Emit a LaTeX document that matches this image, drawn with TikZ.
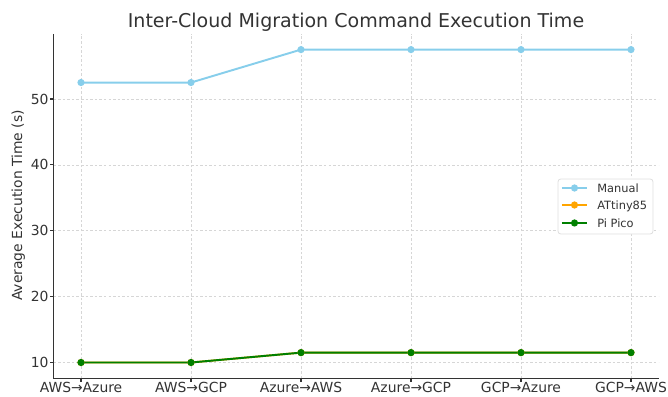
\documentclass[tikz,border=0pt]{standalone}
\usepackage{fontspec}
\setmainfont{DejaVu Sans}
\usetikzlibrary{calc}
\definecolor{skyblue}{HTML}{87CEEB}
\definecolor{mplorange}{HTML}{FFA500}
\definecolor{mplgreen}{HTML}{008000}
\definecolor{txtgray}{HTML}{333333}
\tikzset{
	every node/.style={font=\fontsize{10}{12}\selectfont, text=txtgray},
	gridline/.style={gray!32, line width=0.5pt, dash pattern=on 1.8pt off 1.5pt},
	spine/.style={txtgray, line width=0.8pt},
	series/.style={line width=1.4pt, line join=round},
	legtext/.style={anchor=base west, inner sep=0pt, yshift=-3pt, font=\fontsize{8.2}{10}\selectfont},
}

\begin{document}
\begin{tikzpicture}[x=79.2pt, y=4.743pt]
	\useasboundingbox (-0.7364,4.915) rectangle (5.3364,65.03);
	
	\coordinate (sw) at (-0.25,7.625);
	\coordinate (nw) at (-0.25,59.875);
	\coordinate (se) at (5.25,7.625);
	
	% grille
	\foreach \i in {0,...,5}
		\draw[gridline] (\i,7.625) -- (\i,59.875);
	\foreach \v in {10,20,...,50}
		\draw[gridline] (-0.25,\v) -- (5.25,\v);
	
	% axes
	\draw[spine] (nw) -- (sw) -- (se);
	\foreach \v in {10,20,...,50} {
		\draw[spine] (-0.25,\v) -- ++(-2.5pt,0);
		\node[anchor=east, inner sep=0pt, xshift=-3.4pt] (yl\v) at (-0.25,\v) {\v};
	}
	\foreach \i/\lab in {0/AWS→Azure, 1/AWS→GCP, 2/Azure→AWS, 3/Azure→GCP, 4/GCP→Azure, 5/GCP→AWS} {
		\draw[spine] (\i,7.625) -- ++(0,-2.5pt);
		\node[anchor=north, inner sep=0pt, yshift=-2.9pt] (xl\i) at (\i,7.625) {\lab};
	}
	\node[rotate=90] (ylab) at (-0.57,33.83) {Average Execution Time (s)};
	\node[anchor=base, inner sep=0pt, font=\fontsize{13.7}{16}\selectfont] (title) at (2.5,60.93) {Inter-Cloud Migration Command Execution Time};
	
	% donnees
	\foreach \i/\m/\p in {0/52.5/10, 1/52.5/10, 2/57.5/11.5, 3/57.5/11.5, 4/57.5/11.5, 5/57.5/11.5} {
		\coordinate (man\i) at (\i,\m);
		\coordinate (pico\i) at (\i,\p);
	}
	\draw[series, skyblue] (man0) \foreach \i in {1,...,5} {-- (man\i)};
	\draw[series, mplorange] (pico0) \foreach \i in {1,...,5} {-- (pico\i)};
	\draw[series, mplgreen] (pico0) \foreach \i in {1,...,5} {-- (pico\i)};
	\foreach \i in {0,...,5} {
		\fill[skyblue] (man\i) circle (2.6pt);
		\fill[mplorange] (pico\i) circle (2.6pt);
		\fill[mplgreen] (pico\i) circle (2.6pt);
	}
	
	% legende
	\draw[gray!25, fill=white, line width=0.6pt, rounded corners=2pt] (4.3364,29.507) rectangle (5.2,37.856);
	\foreach \y/\c/\lab [count=\k] in {36.49/skyblue/Manual, 33.91/mplorange/ATtiny85, 31.18/mplgreen/Pi Pico} {
		\draw[series, \c] (4.3727,\y) -- (4.6,\y);
		\fill[\c] (4.4864,\y) circle (2.6pt);
		\node[legtext] (leg\k) at (4.6909,\y) {\lab};
	}
\end{tikzpicture}
\end{document}
